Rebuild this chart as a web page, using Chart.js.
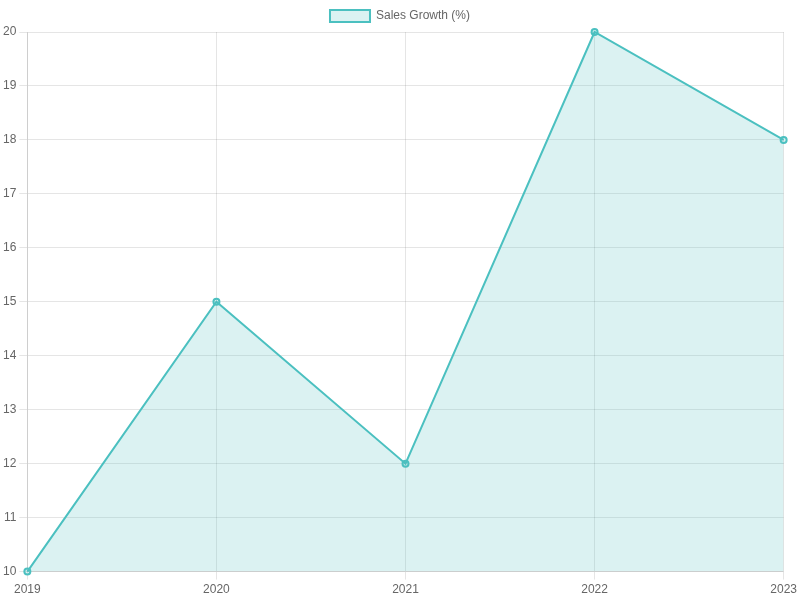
<!DOCTYPE html>
<html>
<head>
<meta charset="utf-8">
<script src="https://cdn.jsdelivr.net/npm/chart.js@4"></script>
<style>
  html, body { margin: 0; padding: 0; background: #fff; }
  #wrap { width: 800px; height: 600px; }
</style>
</head>
<body>
<div id="wrap"><canvas id="salesChart"></canvas></div>
<script>
// Chart data
const years = ['2019', '2020', '2021', '2022', '2023'];
const salesGrowth = [10, 15, 12, 20, 18];

Chart.defaults.font.family = "'Liberation Sans', Arial, sans-serif";

const ctx = document.getElementById('salesChart').getContext('2d');
new Chart(ctx, {
    type: 'line',
    data: {
        labels: years,
        datasets: [{
            label: 'Sales Growth (%)',
            data: salesGrowth,
            borderColor: 'rgba(75, 192, 192, 1)',
            backgroundColor: 'rgba(75, 192, 192, 0.2)',
            borderWidth: 2,
            fill: true,
            tension: 0,
            clip: false
        }]
    },
    options: {
        responsive: true,
        maintainAspectRatio: false,
        animation: false,
        plugins: {
            legend: { position: 'top' }
        },
        scales: {
            y: {
                min: 10,
                max: 20,
                ticks: { stepSize: 1 }
            }
        }
    }
});
</script>
</body>
</html>
